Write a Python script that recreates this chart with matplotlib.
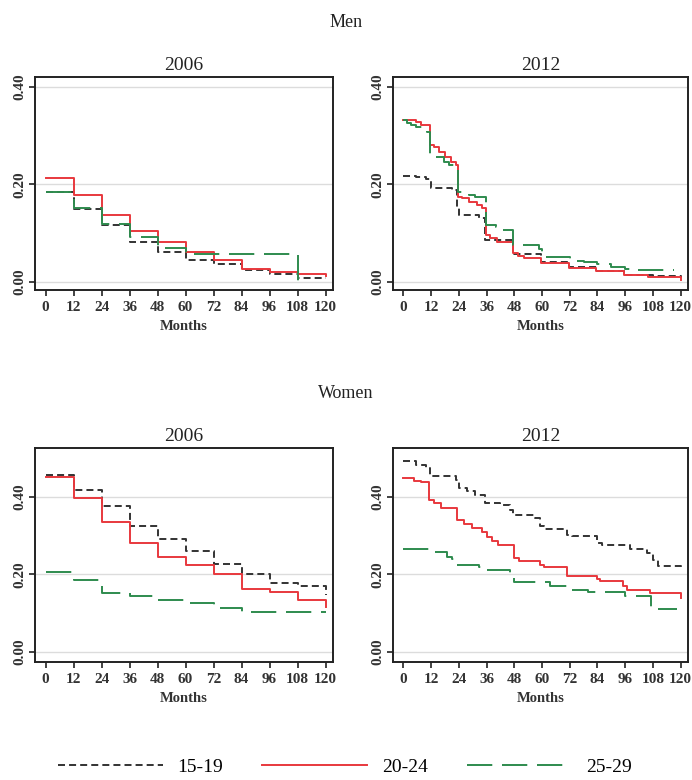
import matplotlib
matplotlib.use('Agg')
import matplotlib.pyplot as plt

# age groups and their line styles
GROUPS = ['15-19', '20-24', '25-29']
COLORS = ['#333333', '#e8383d', '#2e8b4e']

# months on the x axis
MONTH_TICKS = [0, 12, 24, 36, 48, 60, 72, 84, 96, 108, 120]
T12 = [0, 12, 24, 36, 48, 60, 72, 84, 96, 108, 120]

# Men 2006
men06_t_1519 = T12
men06_v_1519 = [0.184, 0.149, 0.116, 0.081, 0.061, 0.044, 0.036, 0.024, 0.016, 0.008, 0.008]
men06_t_2024 = T12
men06_v_2024 = [0.213, 0.177, 0.137, 0.104, 0.081, 0.061, 0.044, 0.027, 0.019, 0.016, 0.012]
men06_t_2529 = [0, 12, 24, 36, 48, 60, 108]
men06_v_2529 = [0.184, 0.152, 0.118, 0.092, 0.070, 0.056, 0.0]

# Men 2012
men12_t_1519 = [0, 5.3, 9.6, 11.8, 21.1, 23.2, 24.2, 32.6, 35.5, 47.5, 59.5, 71.5, 84, 95.5, 108, 120]
men12_v_1519 = [0.217, 0.215, 0.210, 0.192, 0.188, 0.154, 0.137, 0.130, 0.086, 0.057, 0.040, 0.030, 0.022, 0.014, 0.012, 0.008]
men12_t_2024 = [0, 5.3, 7.5, 11.5, 13.2, 15.4, 18.2, 20.4, 22.6, 23.5, 25.4, 28.3, 31.9, 34.1, 35.6,
                37.6, 40.5, 47.3, 49.8, 52, 59.5, 71.8, 83.3, 95.5, 106, 120]
men12_v_2024 = [0.331, 0.327, 0.321, 0.280, 0.277, 0.267, 0.256, 0.246, 0.239, 0.174, 0.171, 0.164,
                0.157, 0.151, 0.096, 0.089, 0.082, 0.058, 0.053, 0.048, 0.038, 0.029, 0.022, 0.014,
                0.009, 0.004]
men12_t_2529 = [0, 1.7, 3.1, 5.3, 8.2, 10.3, 11.5, 13, 17.5, 19.7, 21.8, 23.5, 28.3, 31.2, 35.8,
                40, 42.7, 47.5, 58.5, 59.8, 72, 78, 84, 90, 96, 100, 117]
men12_v_2529 = [0.331, 0.325, 0.321, 0.317, 0.313, 0.308, 0.263, 0.256, 0.246, 0.239, 0.233, 0.185,
                0.178, 0.174, 0.116, 0.113, 0.106, 0.075, 0.068, 0.051, 0.042, 0.040, 0.036, 0.031,
                0.027, 0.024, 0.024]

# Women 2006
wom06_t_1519 = T12
wom06_v_1519 = [0.456, 0.417, 0.377, 0.326, 0.291, 0.260, 0.226, 0.200, 0.179, 0.170, 0.148]
wom06_t_2024 = T12
wom06_v_2024 = [0.452, 0.396, 0.335, 0.280, 0.245, 0.224, 0.200, 0.163, 0.154, 0.133, 0.116]
wom06_t_2529 = T12
wom06_v_2529 = [0.205, 0.185, 0.151, 0.145, 0.133, 0.125, 0.114, 0.104, 0.104, 0.104, 0.104]

# Women 2012
wom12_t_1519 = [0, 5.3, 9.6, 11.5, 22.6, 24, 27.6, 31, 35.5, 42, 46.3, 47.5, 57, 59.3, 61, 70.8,
                73, 83.7, 86, 98, 105.3, 108.2, 110.3, 120]
wom12_v_1519 = [0.493, 0.483, 0.474, 0.453, 0.444, 0.422, 0.414, 0.405, 0.383, 0.379, 0.366, 0.352,
                0.345, 0.325, 0.317, 0.302, 0.299, 0.282, 0.276, 0.265, 0.255, 0.237, 0.222, 0.216]
wom12_t_2024 = [0, 4.6, 7.5, 11, 13.2, 16.1, 23, 26.2, 29.8, 34.1, 36, 38.4, 41, 47.7, 50, 59.3,
                61, 71, 83.7, 85, 95.2, 96.7, 106.7, 120]
wom12_v_2024 = [0.448, 0.442, 0.438, 0.392, 0.384, 0.372, 0.339, 0.330, 0.319, 0.310, 0.296, 0.285,
                0.276, 0.242, 0.235, 0.225, 0.219, 0.196, 0.188, 0.183, 0.170, 0.160, 0.151, 0.139]
wom12_t_2529 = [0, 12, 19, 21.1, 23.3, 32.6, 35.5, 46.3, 47.7, 63.6, 71.5, 80, 96, 107.2, 118.3]
wom12_v_2529 = [0.266, 0.257, 0.246, 0.239, 0.225, 0.218, 0.212, 0.203, 0.180, 0.169, 0.160, 0.154,
                0.145, 0.110, 0.110]

W, H = 692, 780
FONT = 'Liberation Serif'
LW = 1.4
DASHES = [(0, (3.6, 2.1)), '-', (0, (13, 5))]


def box(l, t, r, b):
    ''' pixel box -> figure fraction rect '''
    return [l / W, 1 - b / H, (r - l) / W, (b - t) / H]


def draw_panel(fig, rect, title, series, ylim, yticks):
    ax = fig.add_axes(rect)
    for (t, v), name, col, ls in zip(series, GROUPS, COLORS, DASHES):
        ax.step(t, v, where='post', color=col, linestyle=ls, linewidth=LW, label=name)
    ax.set_xlim(-4.5, 123.2)
    ax.set_ylim(*ylim)
    ax.set_xticks(MONTH_TICKS)
    ax.set_yticks(yticks)
    ax.set_yticklabels([f'{y:.2f}' for y in yticks], rotation=90, va='center')
    for y in yticks:
        ax.axhline(y, color='#dcdcdc', linewidth=1.0, zorder=0)
    for s in ax.spines.values():
        s.set_linewidth(1.4)
        s.set_color('#222222')
    ax.tick_params(direction='out', length=4, width=1.2, color='#222222', pad=4)
    ax.tick_params(axis='y', pad=2)
    for lab in ax.get_xticklabels() + ax.get_yticklabels():
        lab.set_fontfamily(FONT)
        lab.set_fontsize(11)
        lab.set_fontweight('bold')
        lab.set_color('#333333')
    # panel title and x label
    pos = ax.get_position()
    cx = pos.x0 + pos.width / 2
    top_px = (1 - pos.y1) * H
    bot_px = (1 - pos.y0) * H
    fig.text(cx, 1 - (top_px - 7) / H, title, ha='center', va='baseline',
             fontfamily=FONT, fontsize=14, color='#222222')
    fig.text(cx, 1 - (bot_px + 40) / H, 'Months', ha='center', va='baseline',
             fontfamily=FONT, fontsize=10.5, fontweight='bold', color='#333333')
    return ax


fig = plt.figure(figsize=(W / 100, H / 100), dpi=100)

men_ylim = (-0.017, 0.42)
wom_ylim = (-0.026, 0.526)
yt = [0.0, 0.2, 0.4]

ax1 = draw_panel(fig, box(35, 77, 333, 290), '2006',
                 [(men06_t_1519, men06_v_1519), (men06_t_2024, men06_v_2024), (men06_t_2529, men06_v_2529)],
                 men_ylim, yt)
draw_panel(fig, box(393, 77, 688, 290), '2012',
           [(men12_t_1519, men12_v_1519), (men12_t_2024, men12_v_2024), (men12_t_2529, men12_v_2529)],
           men_ylim, yt)
draw_panel(fig, box(35, 448, 333, 662), '2006',
           [(wom06_t_1519, wom06_v_1519), (wom06_t_2024, wom06_v_2024), (wom06_t_2529, wom06_v_2529)],
           wom_ylim, yt)
draw_panel(fig, box(393, 448, 688, 662), '2012',
           [(wom12_t_1519, wom12_v_1519), (wom12_t_2024, wom12_v_2024), (wom12_t_2529, wom12_v_2529)],
           wom_ylim, yt)

fig.text(346 / W, 1 - 27 / H, 'Men', ha='center', va='baseline', fontfamily=FONT, fontsize=13, color='#222222')
fig.text(346 / W, 1 - 398 / H, 'Women', ha='center', va='baseline', fontfamily=FONT, fontsize=13, color='#222222')

handles, labels = ax1.get_legend_handles_labels()
fig.legend(handles, labels, loc='center', bbox_to_anchor=(345 / W, 1 - 767 / H), ncol=3,
           frameon=False, handlelength=5.4, handletextpad=0.75, columnspacing=2.0,
           prop={'family': FONT, 'size': 14})

fig.savefig('out.png', dpi=100)
